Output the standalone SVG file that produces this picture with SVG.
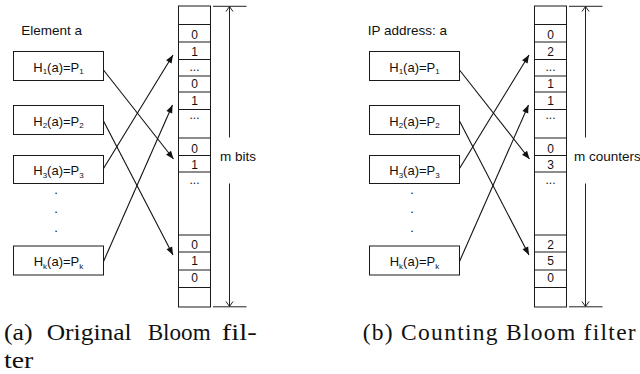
<svg xmlns="http://www.w3.org/2000/svg" width="640" height="374" viewBox="0 0 640 374">
  <style>
    .box{fill:#fff;stroke:#1a1a1a;stroke-width:1}
    .grid{fill:none;stroke:#1a1a1a;stroke-width:1}
    .lbl{font-family:"Liberation Sans",Arial,sans-serif;font-size:13.5px;fill:#111}
    .fn{font-family:"Liberation Sans",Arial,sans-serif;font-size:13px;fill:#111;text-anchor:middle}
    .sub{font-size:8px}
    .val{font-family:"Liberation Sans",Arial,sans-serif;font-size:12px;fill:#111;text-anchor:middle}
    .dot{font-family:"Liberation Sans",Arial,sans-serif;font-size:13px;fill:#111;text-anchor:middle}
    .cap{font-family:"Liberation Serif","Times New Roman",serif;font-size:23.5px;fill:#111}
    .conn{stroke:#111;stroke-width:1.1;fill:none;marker-end:url(#ah)}
    .dim{stroke:#222;stroke-width:1;fill:none}
    .dimarrow{stroke:#222;stroke-width:1;fill:none;marker-end:url(#oh)}
  </style>
  <defs>
    <marker id="ah" markerUnits="userSpaceOnUse" markerWidth="10" markerHeight="8" refX="0" refY="0" orient="auto" overflow="visible">
      <path d="M-8,-3.2 L0,0 L-8,3.2 z" fill="#111"/>
    </marker>
    <marker id="oh" markerUnits="userSpaceOnUse" markerWidth="8" markerHeight="8" refX="0" refY="0" orient="auto" overflow="visible">
      <path d="M-5,-3.5 L0,0 L-5,3.5" fill="none" stroke="#222" stroke-width="1"/>
    </marker>
  </defs>

  <!-- (a) standard Bloom filter: k hash functions setting bits in an m-bit array -->
  <g id="panel-a">
    <text class="lbl" x="21.3" y="35">Element a</text>

    <g id="a-h1">
      <rect class="box" x="13.5" y="51.5" width="90" height="29"/>
      <text class="fn" x="58.5" y="71.5">H<tspan class="sub" dy="2.5">1</tspan><tspan dy="-2.5">(a)=P</tspan><tspan class="sub" dy="2.5">1</tspan></text>
    </g>
    <g id="a-h2">
      <rect class="box" x="13.5" y="105.5" width="90" height="29"/>
      <text class="fn" x="58.5" y="125.5">H<tspan class="sub" dy="2.5">2</tspan><tspan dy="-2.5">(a)=P</tspan><tspan class="sub" dy="2.5">2</tspan></text>
    </g>
    <g id="a-h3">
      <rect class="box" x="13.5" y="155.5" width="90" height="28"/>
      <text class="fn" x="58.5" y="175">H<tspan class="sub" dy="2.5">3</tspan><tspan dy="-2.5">(a)=P</tspan><tspan class="sub" dy="2.5">3</tspan></text>
    </g>
    <g id="a-dots">
      <text class="dot" x="56" y="194">.</text>
      <text class="dot" x="56" y="213">.</text>
      <text class="dot" x="56" y="231.5">.</text>
    </g>
    <g id="a-hk">
      <rect class="box" x="13.5" y="246" width="90" height="29"/>
      <text class="fn" x="58.5" y="266">H<tspan class="sub" dy="2.5">k</tspan><tspan dy="-2.5">(a)=P</tspan><tspan class="sub" dy="2.5">k</tspan></text>
    </g>

    <g id="a-array">
      <rect class="grid" x="178.5" y="6" width="32" height="301"/>
      <path class="grid" d="M178.5,24.5H210.5M178.5,42H210.5M178.5,59.5H210.5M178.5,76H210.5M178.5,92H210.5M178.5,109.5H210.5M178.5,138H210.5M178.5,155.5H210.5M178.5,172H210.5M178.5,235H210.5M178.5,252H210.5M178.5,270H210.5M178.5,287.5H210.5"/>
      <text class="val" x="194.5" y="39">0</text>
      <text class="val" x="194.5" y="55.7">1</text>
      <text class="val" x="194.5" y="71">...</text>
      <text class="val" x="194.5" y="88.3">0</text>
      <text class="val" x="194.5" y="104.5">1</text>
      <text class="val" x="194.5" y="119">...</text>
      <text class="val" x="194.5" y="153.3">0</text>
      <text class="val" x="194.5" y="169">1</text>
      <text class="val" x="194.5" y="183.5">...</text>
      <text class="val" x="194.5" y="249">0</text>
      <text class="val" x="194.5" y="265">1</text>
      <text class="val" x="194.5" y="282">0</text>
    </g>

    <g id="a-size">
      <path class="dim" d="M213,6.3H246.5M213,306.8H246.5"/>
      <path class="dimarrow" d="M229.5,137.5V6.5"/>
      <path class="dimarrow" d="M229.5,183.5V306.5"/>
      <text class="lbl" x="220" y="161">m bits</text>
    </g>

    <g id="a-connectors">
      <path class="conn" d="M103.5,70 L173.5,159"/>
      <path class="conn" d="M103.5,121 L173,255"/>
      <path class="conn" d="M103.5,168.5 L173,55"/>
      <path class="conn" d="M103.5,261.5 L172.5,105"/>
    </g>
  </g>

  <!-- (b) counting Bloom filter: same hashing, counters instead of bits -->
  <g id="panel-b" transform="translate(356,0)">
    <text class="lbl" x="11.7" y="35">IP address: a</text>

    <g id="b-h1">
      <rect class="box" x="13.5" y="51.5" width="90" height="29"/>
      <text class="fn" x="58.5" y="71.5">H<tspan class="sub" dy="2.5">1</tspan><tspan dy="-2.5">(a)=P</tspan><tspan class="sub" dy="2.5">1</tspan></text>
    </g>
    <g id="b-h2">
      <rect class="box" x="13.5" y="105.5" width="90" height="29"/>
      <text class="fn" x="58.5" y="125.5">H<tspan class="sub" dy="2.5">2</tspan><tspan dy="-2.5">(a)=P</tspan><tspan class="sub" dy="2.5">2</tspan></text>
    </g>
    <g id="b-h3">
      <rect class="box" x="13.5" y="155.5" width="90" height="28"/>
      <text class="fn" x="58.5" y="175">H<tspan class="sub" dy="2.5">3</tspan><tspan dy="-2.5">(a)=P</tspan><tspan class="sub" dy="2.5">3</tspan></text>
    </g>
    <g id="b-dots">
      <text class="dot" x="56" y="194">.</text>
      <text class="dot" x="56" y="213">.</text>
      <text class="dot" x="56" y="231.5">.</text>
    </g>
    <g id="b-hk">
      <rect class="box" x="13.5" y="246" width="90" height="29"/>
      <text class="fn" x="58.5" y="266">H<tspan class="sub" dy="2.5">k</tspan><tspan dy="-2.5">(a)=P</tspan><tspan class="sub" dy="2.5">k</tspan></text>
    </g>

    <g id="b-array">
      <rect class="grid" x="178.5" y="6" width="32" height="301"/>
      <path class="grid" d="M178.5,24.5H210.5M178.5,42H210.5M178.5,59.5H210.5M178.5,76H210.5M178.5,92H210.5M178.5,109.5H210.5M178.5,138H210.5M178.5,155.5H210.5M178.5,172H210.5M178.5,235H210.5M178.5,252H210.5M178.5,270H210.5M178.5,287.5H210.5"/>
      <text class="val" x="194.5" y="39">0</text>
      <text class="val" x="194.5" y="55.7">2</text>
      <text class="val" x="194.5" y="71">...</text>
      <text class="val" x="194.5" y="88.3">1</text>
      <text class="val" x="194.5" y="104.5">1</text>
      <text class="val" x="194.5" y="119">...</text>
      <text class="val" x="194.5" y="153.3">0</text>
      <text class="val" x="194.5" y="169">3</text>
      <text class="val" x="194.5" y="183.5">...</text>
      <text class="val" x="194.5" y="249">2</text>
      <text class="val" x="194.5" y="265">5</text>
      <text class="val" x="194.5" y="282">0</text>
    </g>

    <g id="b-size">
      <path class="dim" d="M213,6.3H246.5M213,306.8H246.5"/>
      <path class="dimarrow" d="M229.5,137.5V6.5"/>
      <path class="dimarrow" d="M229.5,183.5V306.5"/>
      <text class="lbl" x="218" y="161">m counters</text>
    </g>

    <g id="b-connectors">
      <path class="conn" d="M103.5,70 L173.5,159"/>
      <path class="conn" d="M103.5,121 L173,255"/>
      <path class="conn" d="M103.5,168.5 L173,55"/>
      <path class="conn" d="M103.5,261.5 L172.5,105"/>
    </g>
  </g>

  <!-- sub-figure captions -->
  <g id="captions">
    <text class="cap" x="4" y="340" textLength="28.7" lengthAdjust="spacingAndGlyphs">(a)</text>
    <text class="cap" x="46.7" y="340" textLength="85" lengthAdjust="spacingAndGlyphs">Original</text>
    <text class="cap" x="147.7" y="340" textLength="63" lengthAdjust="spacingAndGlyphs">Bloom</text>
    <text class="cap" x="221.7" y="340" textLength="35" lengthAdjust="spacingAndGlyphs">fil-</text>
    <text class="cap" x="4" y="368" textLength="29.3" lengthAdjust="spacingAndGlyphs">ter</text>
    <text class="cap" x="362.7" y="340" textLength="273" lengthAdjust="spacing">(b) Counting Bloom filter</text>
  </g>
</svg>
